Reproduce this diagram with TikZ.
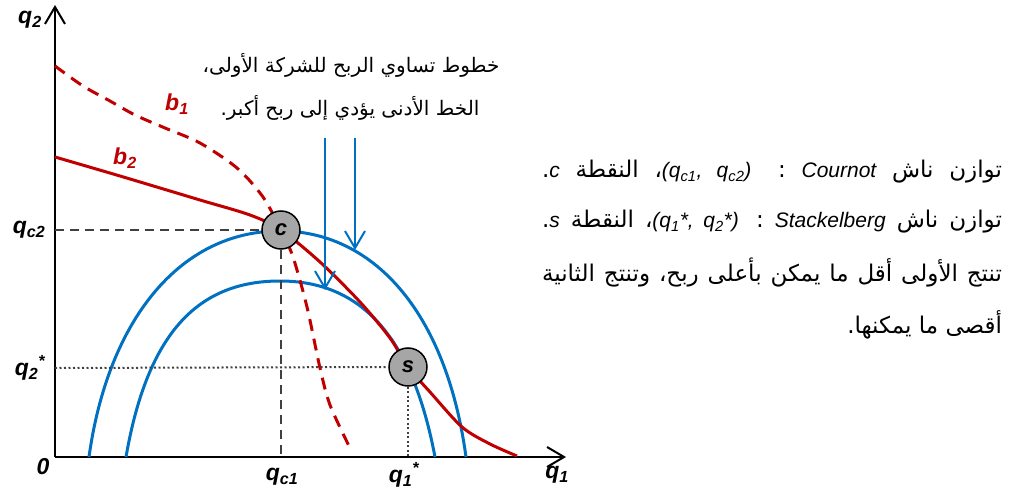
\documentclass[tikz,border=0pt]{standalone}
\usepackage{fontspec}
\setmainfont{Liberation Sans}
\newfontfamily\arabicfont[Script=Arabic]{DejaVu Sans}
\TeXXeTstate=1
\usetikzlibrary{arrows.meta}
\definecolor{isoblue}{HTML}{0070C0}
\definecolor{bred}{HTML}{C00000}
\definecolor{ptgray}{HTML}{A6A6A6}
\definecolor{guidegray}{HTML}{404040}
\newcommand{\lat}[1]{\beginL{\normalfont\fontsize{21}{24}\selectfont\itshape #1}\endL}
\newcommand{\jline}[1]{\hbox to 460pt{\beginR #1\endR}}

\begin{document}
\begin{tikzpicture}[x=1pt, y=-1pt, >={Straight Barb[length=17pt, width=20pt]}, line width=2pt]

\useasboundingbox (0,0) rectangle (1010,492);

% Styles
\tikzset{
  isoprofit/.style={isoblue, line width=3pt},
  react/.style={bred, line width=3pt},
  guide/.style={guidegray, line width=2pt, dash pattern=on 9pt off 6pt},
  dotguide/.style={guidegray, line width=2pt, dash pattern=on 2pt off 2.5pt},
  eqpt/.style={circle, fill=ptgray, draw=black, line width=1.5pt,
    minimum size=38pt, inner sep=0pt, font=\fontsize{22}{22}\selectfont\bfseries\itshape},
  axlabel/.style={font=\fontsize{23}{24}\selectfont\bfseries\itshape},
  notetext/.style={font=\fontsize{20}{22}\selectfont\arabicfont, inner sep=0pt},
  artext/.style={font=\fontsize{23}{26}\selectfont\arabicfont, inner sep=0pt, anchor=east}
}

% Axes
\coordinate (O) at (55,457);
\coordinate (ytop) at (55,5);
\coordinate (xend) at (566,457);
\draw[->, black] (O) -- (ytop);
\draw[->, black] (O) -- (xend);

\node[axlabel] (zero) at (43,467) {0};
\node[axlabel] (q2lab) at (30,20) {q\textsubscript{2}};
\node[axlabel] (q1lab) at (557,475) {q\textsubscript{1}};

% Iso-profit curves of firm 1
\draw[isoprofit] (89,457) .. controls (108,320) and (180,231) .. (280,231)
  .. controls (372,231) and (446,310) .. (466,457);
\draw[isoprofit] (126,457) .. controls (148,330) and (200,281) .. (280,281)
  .. controls (360,281) and (412,335) .. (435,457);

% Reaction curves
\draw[react, dash pattern=on 12pt off 8pt] plot[smooth] coordinates {
  (55,66) (83,86) (110,101) (135,115) (165,128) (200,143) (237,168)
  (263,197) (281,230) (293,257) (307,307) (320,368) (330,405) (350,448)};
\draw[react] plot[smooth] coordinates {
  (55,157) (120,176) (200,200) (250,215) (281,230) (320,262) (360,302)
  (390,338) (408,367) (430,392) (462,427) (490,444) (517,456)};

\node[font=\fontsize{23}{24}\selectfont\bfseries\itshape, text=bred] (b1lab) at (177,104) {b\textsubscript{1}};
\node[font=\fontsize{23}{24}\selectfont\bfseries\itshape, text=bred] (b2lab) at (125,158) {b\textsubscript{2}};

% Equilibrium points
\node[eqpt] (c) at (281,230) {c};
\node[eqpt] (s) at (408,367) {s};

% Guide lines to the axes
\coordinate (qc2pt) at (55,230);
\coordinate (qc1pt) at (281,457);
\coordinate (q2spt) at (55,368);
\coordinate (q1spt) at (408,457);
\draw[guide] (qc2pt) -- (c.west);
\draw[guide] (c.south) -- (qc1pt);
\draw[dotguide] (q2spt) -- (s.west);
\draw[dotguide] (s.south) -- (q1spt);

\node[axlabel] (qc2lab) at (29,230) {q\textsubscript{c2}};
\node[axlabel] (qc1lab) at (282,477) {q\textsubscript{c1}};
\node[axlabel] (q2slab) at (30,368) {q\textsubscript{2}\textsuperscript{*}};
\node[axlabel] (q1slab) at (404,475) {q\textsubscript{1}\textsuperscript{*}};

% Note on the iso-profit lines
\node[notetext] (note1) at (351,65) {\beginR خطوط تساوي الربح للشركة الأولى،\endR};
\node[notetext] (note2) at (350,108) {\beginR الخط الأدنى يؤدي إلى ربح أكبر.\endR};
\coordinate (arr1) at (325,138);
\coordinate (arr2) at (355,138);
\draw[->, isoblue] (arr1) -- (325,290);
\draw[->, isoblue] (arr2) -- (355,250);

% Explanation
\node[artext] (exp1) at (1003,172)
  {\jline{توازن ناش \lat{Cournot} : \lat{(q\textsubscript{c1}, q\textsubscript{c2})}، النقطة \lat{c}.}};
\node[artext] (exp2) at (1003,222)
  {\jline{توازن ناش \lat{Stackelberg} : \lat{(q\textsubscript{1}*, q\textsubscript{2}*)}، النقطة \lat{s}.}};
\node[artext] (exp3) at (1003,272)
  {\jline{تنتج الأولى أقل ما يمكن بأعلى ربح، وتنتج الثانية}};
\node[artext] (exp4) at (1003,325)
  {\beginR أقصى ما يمكنها.\endR};

\end{tikzpicture}
\end{document}
